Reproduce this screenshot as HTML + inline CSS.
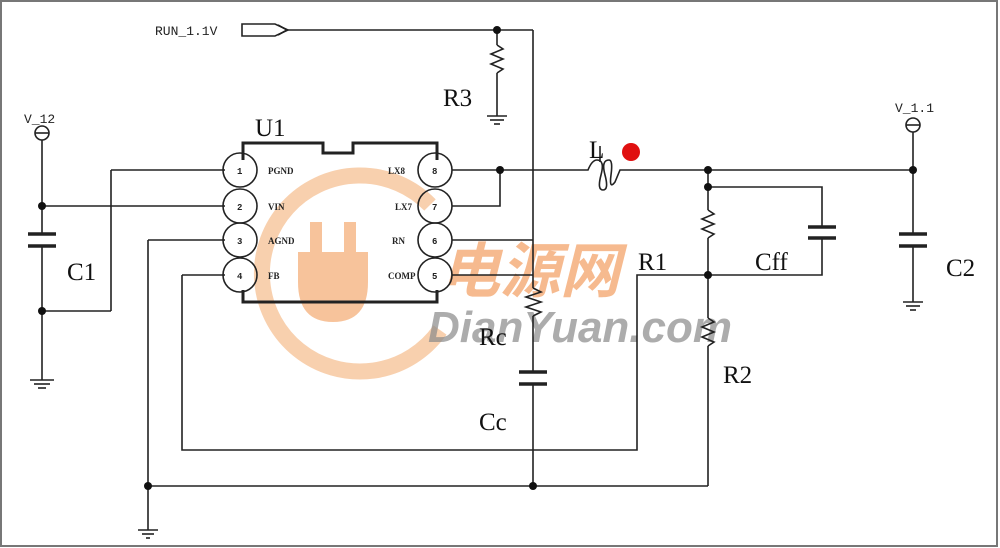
<!DOCTYPE html>
<html><head><style>
body{margin:0;background:#fff;}
svg{display:block}
.w{stroke:#222;stroke-width:1.6;fill:none}
.t{font-family:"Liberation Serif",serif;fill:#111}
.m{font-family:"Liberation Mono",monospace;fill:#222}
</style></head><body>
<svg width="1000" height="548" viewBox="0 0 1000 548" xmlns="http://www.w3.org/2000/svg">
<rect x="1" y="1" width="996" height="545" fill="#fff" stroke="#777" stroke-width="2"/>
<!-- watermark -->
<path d="M430,205 A98,98 0 1 0 440,330" fill="none" stroke="#f6c49a" stroke-width="16" opacity="0.8"/>
<path d="M310,222 h12 v30 h22 v-30 h12 v30 h12 v30 q0,40 -35,40 q-35,0 -35,-40 v-30 h12z" fill="#f6b88a" opacity="0.85"/>
<text x="440" y="292" font-family="Noto Sans CJK SC,sans-serif" font-size="60" font-weight="bold" fill="#f4a46a" opacity="0.75" font-style="italic">电源网</text>
<text x="428" y="342" font-family="Liberation Sans,sans-serif" font-size="44" font-weight="bold" font-style="italic" fill="#8a8a8a" opacity="0.7">DianYuan.com</text>

<g class="w">
<circle cx="42" cy="133" r="7"/><line x1="35" y1="133" x2="49" y2="133"/>
<line x1="42" y1="140" x2="42" y2="234"/><line x1="42" y1="246" x2="42" y2="380"/>
<line x1="30" y1="380" x2="54" y2="380"/><line x1="34" y1="384" x2="50" y2="384"/><line x1="38" y1="388" x2="46" y2="388"/>
<line x1="42" y1="206" x2="225" y2="206"/>
<line x1="42" y1="311" x2="111" y2="311"/><line x1="111" y1="311" x2="111" y2="170"/><line x1="111" y1="170" x2="225" y2="170"/>
<line x1="148" y1="240" x2="225" y2="240"/><line x1="148" y1="240" x2="148" y2="530"/>
<line x1="138" y1="530" x2="158" y2="530"/><line x1="142" y1="534" x2="154" y2="534"/><line x1="146" y1="538" x2="150" y2="538"/>
<line x1="182" y1="275" x2="225" y2="275"/><polyline points="182,275 182,450 637,450 637,275 708,275"/>
<line x1="148" y1="486" x2="708" y2="486"/>
<polyline points="243,160 243,143 323,143 323,153 353,153 353,143 437,143 437,160" stroke-width="3"/>
<polyline points="243,290 243,302 437,302 437,290" stroke-width="3"/>
<circle cx="240" cy="170" r="17"/><circle cx="240" cy="206" r="17"/><circle cx="240" cy="240" r="17"/><circle cx="240" cy="275" r="17"/>
<circle cx="435" cy="170" r="17"/><circle cx="435" cy="206" r="17"/><circle cx="435" cy="240" r="17"/><circle cx="435" cy="275" r="17"/>
<line x1="452" y1="170" x2="580" y2="170"/><polyline points="452,206 500,206 500,170"/>
<line x1="452" y1="240" x2="533" y2="240"/><line x1="452" y1="275" x2="533" y2="275"/>
<polygon points="242,24 275,24 288,30 275,36 242,36"/><polyline points="278,25 287,30 278,35"/>
<line x1="288" y1="30" x2="533" y2="30"/>
<line x1="533" y1="30" x2="533" y2="288"/>
<polyline points="533,288 541,292 526,297 541,302 526,307 541,312 533,316"/>
<line x1="533" y1="316" x2="533" y2="372"/><line x1="533" y1="384" x2="533" y2="486"/>
<line x1="519" y1="372" x2="547" y2="372" stroke-width="3.5"/><line x1="519" y1="384" x2="547" y2="384" stroke-width="3.5"/>
<line x1="497" y1="30" x2="497" y2="45"/>
<polyline points="497,45 503,49 491,54 503,59 491,64 503,69 497,73"/>
<line x1="497" y1="73" x2="497" y2="116"/>
<line x1="487" y1="116" x2="507" y2="116"/><line x1="490" y1="120" x2="504" y2="120"/><line x1="494" y1="124" x2="500" y2="124"/>
<path d="M580,170 L588,170 Q592,160 597,160 Q605,160 601,175 Q597,190 603,190 Q609,190 605,175 Q601,160 609,160 Q613,160 611,175 Q609,190 615,182 L620,170 L708,170"/>
<line x1="600" y1="146" x2="600" y2="162"/>
<line x1="708" y1="170" x2="913" y2="170"/>
<line x1="708" y1="170" x2="708" y2="210"/>
<polyline points="708,210 714,214 702,219 714,224 702,229 714,234 708,238"/>
<line x1="708" y1="238" x2="708" y2="318"/>
<polyline points="708,318 714,322 702,327 714,332 702,337 714,342 708,346"/>
<line x1="708" y1="346" x2="708" y2="486"/>
<polyline points="708,187 822,187 822,227"/><polyline points="822,238 822,275 708,275"/>
<line x1="808" y1="227" x2="836" y2="227" stroke-width="3.5"/><line x1="808" y1="238" x2="836" y2="238" stroke-width="3.5"/>
<circle cx="913" cy="125" r="7"/><line x1="906" y1="125" x2="920" y2="125"/>
<line x1="913" y1="132" x2="913" y2="234"/><line x1="913" y1="246" x2="913" y2="302"/>
<line x1="899" y1="234" x2="927" y2="234" stroke-width="3.5"/><line x1="899" y1="246" x2="927" y2="246" stroke-width="3.5"/>
<line x1="903" y1="302" x2="923" y2="302"/><line x1="906" y1="306" x2="920" y2="306"/><line x1="910" y1="310" x2="916" y2="310"/>
<line x1="28" y1="234" x2="56" y2="234" stroke-width="3.5"/><line x1="28" y1="246" x2="56" y2="246" stroke-width="3.5"/>
</g>
<g fill="#111">
<circle cx="42" cy="206" r="4"/><circle cx="42" cy="311" r="4"/><circle cx="148" cy="486" r="4"/>
<circle cx="500" cy="170" r="4"/><circle cx="497" cy="30" r="4"/><circle cx="533" cy="486" r="4"/>
<circle cx="708" cy="170" r="4"/><circle cx="708" cy="187" r="4"/><circle cx="708" cy="275" r="4"/><circle cx="913" cy="170" r="4"/>
</g>
<circle cx="631" cy="152" r="9" fill="#e01010"/>
<g class="m" font-size="13">
<text x="155" y="35">RUN_1.1V</text>
<text x="24" y="123">V_12</text>
<text x="895" y="112">V_1.1</text>
</g>
<g class="m" font-size="9" font-weight="bold">
<text x="237" y="174">1</text><text x="237" y="210">2</text><text x="237" y="244">3</text><text x="237" y="279">4</text>
<text x="432" y="174">8</text><text x="432" y="210">7</text><text x="432" y="244">6</text><text x="432" y="279">5</text>
<text x="268" y="174" font-family="Liberation Serif">PGND</text><text x="268" y="210" font-family="Liberation Serif">VIN</text>
<text x="268" y="244" font-family="Liberation Serif">AGND</text><text x="268" y="279" font-family="Liberation Serif">FB</text>
<text x="388" y="174" font-family="Liberation Serif">LX8</text><text x="395" y="210" font-family="Liberation Serif">LX7</text>
<text x="392" y="244" font-family="Liberation Serif">RN</text><text x="388" y="279" font-family="Liberation Serif">COMP</text>
</g>
<g class="t" font-size="25">
<text x="255" y="136">U1</text>
<text x="443" y="106">R3</text>
<text x="589" y="158">L</text>
<text x="67" y="280">C1</text>
<text x="638" y="270">R1</text>
<text x="755" y="270">Cff</text>
<text x="946" y="276">C2</text>
<text x="479" y="345">Rc</text>
<text x="723" y="383">R2</text>
<text x="479" y="430">Cc</text>
</g>
</svg>
</body></html>
